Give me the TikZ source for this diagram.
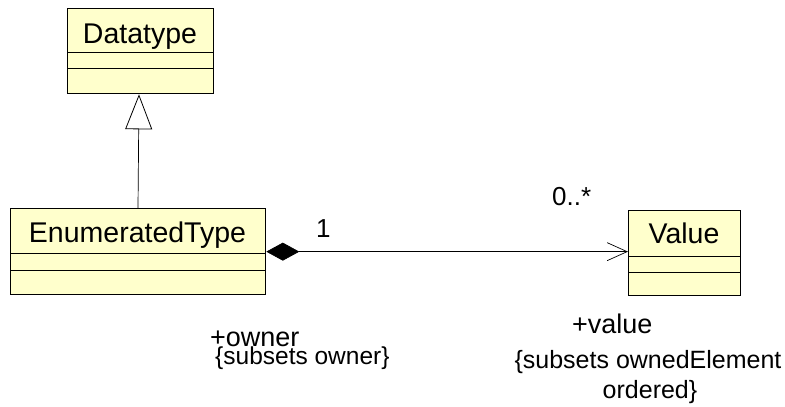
\documentclass[tikz,border=0pt]{standalone}
\usepackage{fontspec}
\setmainfont{Liberation Sans}
\usetikzlibrary{arrows.meta,calc}
\definecolor{classfill}{RGB}{255,255,204}
\tikzset{
  umlclass/.style={draw=black, line width=1.3pt, fill=classfill, anchor=north west, inner sep=0pt},
  cname/.style={anchor=base, inner sep=0pt, font=\fontsize{28.5}{30}\selectfont},
  lbl/.style={anchor=base west, inner sep=0pt},
  conn/.style={draw=black, line width=0.7pt},
}
\begin{document}
\begin{tikzpicture}[x=1pt,y=-1pt]
\useasboundingbox (0,0) rectangle (785,407);
% classes
\node[umlclass, minimum width=146pt, minimum height=85pt] (dt) at (67,8) {};
\node[umlclass, minimum width=255pt, minimum height=86pt] (et) at (10,208) {};
\node[umlclass, minimum width=112pt, minimum height=85pt] (val) at (628,210) {};
% compartments
\draw[line width=1pt] ($(dt.north west)+(0,44)$) -- ($(dt.north east)+(0,44)$);
\draw[line width=1pt] ($(dt.north west)+(0,60)$) -- ($(dt.north east)+(0,60)$);
\draw[line width=1pt] ($(et.north west)+(0,45)$) -- ($(et.north east)+(0,45)$);
\draw[line width=1pt] ($(et.north west)+(0,62)$) -- ($(et.north east)+(0,62)$);
\draw[line width=1pt] ($(val.north west)+(0,46)$) -- ($(val.north east)+(0,46)$);
\draw[line width=1pt] ($(val.north west)+(0,62)$) -- ($(val.north east)+(0,62)$);
% names
\node[cname] (dtn) at (140,43) {Datatype};
\node[cname] (etn) at (137.5,242) {EnumeratedType};
\node[cname] (valn) at (684,243) {Value};
% generalization
\coordinate (g1) at ($(et.north west)+(128,0)$);
\coordinate (g2) at ($(dt.south west)+(72,0)$);
\draw[conn, -{Triangle[open, length=35pt, width=27pt, line width=0.8pt, fill=white]}] (g1) -- (g2);
% composition
\draw[conn, {Diamond[length=33pt, width=18pt, fill=black]}-{Straight Barb[length=20pt, width=18pt, line width=0.7pt]}] (et.east) -- (et.east -| val.west);
% labels
\node[lbl, font=\fontsize{26}{28}\selectfont] (m1) at (316,237) {1};
\node[lbl, font=\fontsize{26}{28}\selectfont] (m2) at (552,205) {0..*};
\node[lbl, font=\fontsize{27}{29}\selectfont] (r1) at (210,346) {+owner};
\node[lbl, font=\fontsize{24.5}{27}\selectfont] (c1) at (215,364) {\{subsets owner\}};
\node[lbl, font=\fontsize{27}{29}\selectfont] (r2) at (572,333) {+value};
\node[anchor=base, inner sep=0pt, font=\fontsize{25}{28}\selectfont] (c2a) at (648,368) {\{subsets ownedElement};
\node[anchor=base, inner sep=0pt, font=\fontsize{25}{28}\selectfont] (c2b) at (650,398) {ordered\}};
\end{tikzpicture}
\end{document}
